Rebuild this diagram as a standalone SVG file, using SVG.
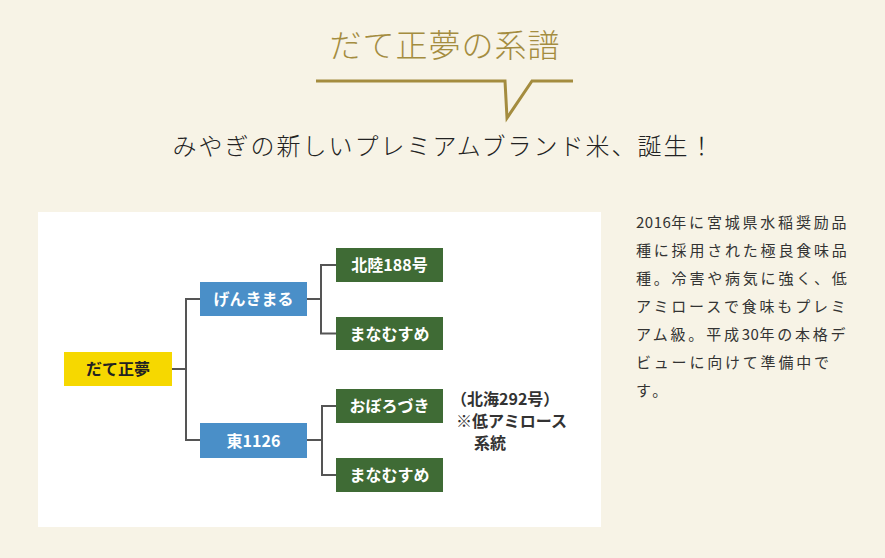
<svg xmlns="http://www.w3.org/2000/svg" width="885" height="558" viewBox="0 0 885 558">
<style>
.bg{fill:#f7f3e6}
.title{font-family:"Noto Sans CJK JP",sans-serif;font-size:32px;fill:#a48c3f;font-weight:300}
.sub{font-family:"Noto Sans CJK JP",sans-serif;font-size:24px;fill:#222;font-weight:300}
.box{stroke:none}
.y{fill:#f6d800}
.b{fill:#4a8fc8}
.g{fill:#3f6b35}
.nt{font-family:"Noto Sans CJK JP",sans-serif;font-size:16px;font-weight:bold;fill:#fff;text-anchor:middle}
.nk{fill:#222}
.conn{fill:none;stroke:#555;stroke-width:2}
.note{font-family:"Noto Sans CJK JP",sans-serif;font-size:16px;font-weight:bold;fill:#333}
.para{font-family:"Noto Sans CJK JP",sans-serif;font-size:15px;fill:#333;letter-spacing:2.8px}
.dg{letter-spacing:0.5px}
</style>
<rect class="bg" x="0" y="0" width="885" height="558"/>
<text class="title" x="445" y="57" text-anchor="middle" letter-spacing="1">だて正夢の系譜</text>
<polyline points="316,81 505,81 507,118 532,81 573,81" fill="none" stroke="#a48c3f" stroke-width="3"/>
<text class="sub" x="444" y="155" text-anchor="middle" letter-spacing="2">みやぎの新しいプレミアムブランド米、誕生！</text>
<rect x="38" y="212" width="563" height="315" fill="#fff"/>
<g id="connectors">
<polyline class="conn" points="172,369 186,369"/>
<polyline class="conn" points="200,299 186,299 186,440 200,440"/>
<polyline class="conn" points="307,299 321,299"/>
<polyline class="conn" points="336,265 321,265 321,333.5 336,333.5"/>
<polyline class="conn" points="307,440 322,440"/>
<polyline class="conn" points="336,406 322,406 322,475 336,475"/>
</g>
<g id="node-date">
<rect class="box y" x="64" y="352" width="108" height="34"/>
<text class="nt nk" x="118" y="375">だて正夢</text>
</g>
<g id="node-genki">
<rect class="box b" x="200" y="282" width="107" height="34"/>
<text class="nt" x="253.5" y="305">げんきまる</text>
</g>
<g id="node-hokuriku">
<rect class="box g" x="336" y="248" width="107" height="34"/>
<text class="nt" x="389.5" y="271">北陸188号</text>
</g>
<g id="node-manamusume1">
<rect class="box g" x="336" y="317" width="107" height="33"/>
<text class="nt" x="389.5" y="339.5">まなむすめ</text>
</g>
<g id="node-higashi">
<rect class="box b" x="200" y="423" width="107" height="35"/>
<text class="nt" x="253.5" y="446.5">東1126</text>
</g>
<g id="node-oborozuki">
<rect class="box g" x="336" y="389" width="107" height="34"/>
<text class="nt" x="389.5" y="412">おぼろづき</text>
</g>
<g id="node-manamusume2">
<rect class="box g" x="336" y="458" width="107" height="34"/>
<text class="nt" x="389.5" y="481">まなむすめ</text>
</g>
<g id="note">
<text class="note" x="451" y="405">（北海292号）</text>
<text class="note" x="456" y="427">※低アミロース</text>
<text class="note" x="474" y="449">系統</text>
</g>
<g id="para">
<text class="para" x="636" y="228"><tspan class="dg">2016</tspan>年に宮城県水稲奨励品</text>
<text class="para" x="636" y="256">種に採用された極良食味品</text>
<text class="para" x="636" y="284">種。冷害や病気に強く、低</text>
<text class="para" x="636" y="312">アミロースで食味もプレミ</text>
<text class="para" x="636" y="340">アム級。平成<tspan class="dg">30</tspan>年の本格デ</text>
<text class="para" x="636" y="368">ビューに向けて準備中で</text>
<text class="para" x="636" y="396">す。</text>
</g>
</svg>
